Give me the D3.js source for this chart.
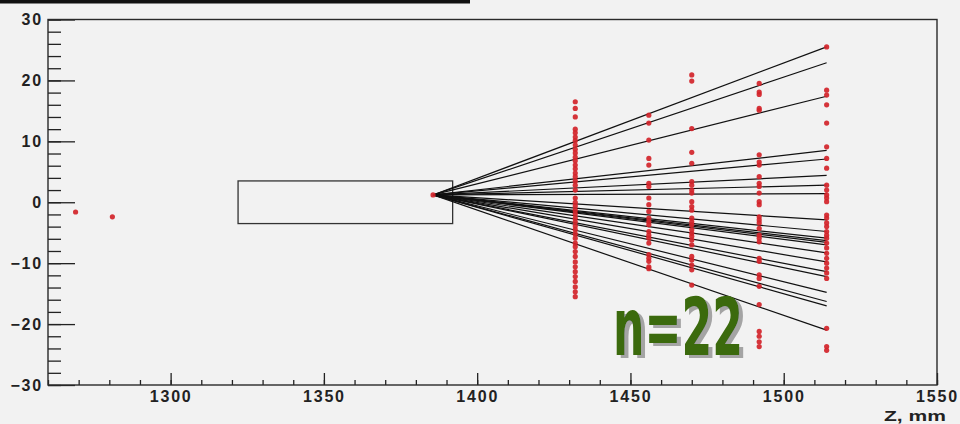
<!DOCTYPE html>
<html>
<head>
<meta charset="utf-8">
<script src="https://cdn.jsdelivr.net/npm/d3@7"></script>
<style>
  body { margin: 0; background: #f2f2f2; }
  svg { display: block; }
  .tick text { font-family: "Liberation Sans", Arial, sans-serif; font-weight: bold; font-size: 16px; letter-spacing: 1.8px; fill: #222; }
</style>
</head>
<body>
<div id="container"></div>
<script>
var width = 960;
var height = 424;

// station planes (Z, mm) and the hits recorded on each
var stationZ = [1432, 1456, 1470, 1492, 1514];
var hitsY = [
  [16.5, 15.4, 14.0, 12.0, 11.4, 10.7, 10.1, 9.4, 8.7, 8.1, 7.4, 6.8, 6.1, 5.5, 4.8, 4.2, 3.5, 2.8, 2.0,
   0.7, 0.0, -0.6, -1.3, -1.9, -2.6, -3.2, -3.9, -4.5, -5.2, -5.9, -6.7, -7.3, -8.1, -8.9, -9.8,
   -10.6, -11.4, -12.2, -13.0, -13.9, -14.7, -15.5],
  [14.3, 13.0, 10.2, 7.2, 6.1, 3.1, 2.6, 0.7, -0.4, -1.5, -2.6, -3.2, -3.7, -4.8, -5.4, -5.9, -6.7,
   -8.6, -9.2, -9.7, -10.6, -10.9],
  [20.9, 19.9, 12.1, 8.2, 6.4, 3.4, 2.8, 2.0, 1.5, 0.1, -0.7, -1.3, -2.6, -3.2, -3.7, -4.5, -5.1,
   -5.6, -6.2, -7.0, -8.9, -9.5, -10.3, -11.1, -13.6],
  [19.5, 18.1, 17.7, 15.4, 15.1, 7.8, 6.6, 6.1, 4.2, 3.1, 2.6, 1.5, 0.1, -0.4, -2.4, -2.9, -3.4,
   -4.3, -5.4, -5.9, -6.5, -9.2, -9.7, -11.9, -12.5, -13.8, -16.8, -21.2, -22.0, -22.9, -23.7],
  [25.5, 18.4, 17.6, 16.0, 13.0, 9.1, 7.2, 5.6, 2.8, 2.0, 1.2, 0.7, 0.1, -2.1, -2.6, -3.4, -4.0,
   -4.8, -5.4, -5.9, -6.7, -7.5, -8.4, -9.2, -10.0, -10.8, -11.6, -12.5, -20.7, -23.7, -24.3]
];

// beam points upstream of the target
var beamZ = [1269, 1281];
var beamY = [-1.6, -2.4];

// reconstructed vertex and fitted tracks (Y at the last plane)
var vertexZ = 1385.6;
var vertexY = 1.2;
var trackEndZ = 1514;
var trackEndY = [25.5, 22.9, 17.4, 8.5, 7.1, 4.4, 2.8, 1.4, -2.9, -4.8, -5.9, -6.3, -6.6, -7.0,
                 -8.3, -9.8, -11.4, -12.2, -14.8, -16.3, -17.0, -21.0];

// target box
var boxZ = [1322, 1392];
var boxY = [-3.5, 3.5];

var xMajor = [1300, 1350, 1400, 1450, 1500, 1550];
var xMinor = d3.range(1260, 1551, 10);
var yMajor = [-30, -20, -10, 0, 10, 20, 30];
var yMinor = d3.range(-30, 31, 2);
var label = "n=22";

var svg = d3.select("div#container")
  .append("svg")
  .attr("width", width)
  .attr("height", height)
  .style("background-color", "#f2f2f2");

var defs = svg.append("defs");
defs.append("filter").attr("id", "shadow")
  .attr("x", "-10%").attr("y", "-10%").attr("width", "130%").attr("height", "130%")
  .append("feDropShadow")
  .attr("dx", 4).attr("dy", 3).attr("stdDeviation", 0.6)
  .attr("flood-color", "#a4a4a4").attr("flood-opacity", 1);

// black strip on top
svg.append("rect").attr("x", 0).attr("y", 0).attr("width", 470).attr("height", 3.5).attr("fill", "#111");

var x = d3.scaleLinear().domain([1260, 1550]).range([48, 937]);
var y = d3.scaleLinear().domain([-30, 30]).range([385, 19.5]);

// axes
var gx = svg.append("g").attr("transform", "translate(0," + y(-30) + ")");
gx.call(d3.axisBottom(x).tickValues(xMinor).tickSize(-5).tickFormat(""));
gx.append("g").call(d3.axisBottom(x).tickValues(xMajor).tickSize(-12).tickPadding(6).tickFormat(d3.format("d")));

var gy = svg.append("g").attr("transform", "translate(" + x(1260) + ",0)");
gy.call(d3.axisLeft(y).tickValues(yMinor).tickSize(-13).tickFormat(""));
gy.append("g").call(d3.axisLeft(y).tickValues(yMajor).tickSize(-27).tickPadding(5));

svg.selectAll(".domain").remove();
svg.selectAll(".tick line").attr("stroke", "#222").attr("stroke-width", 1.3);

// frame
svg.append("rect")
  .attr("x", x(1260)).attr("y", y(30))
  .attr("width", x(1550) - x(1260)).attr("height", y(-30) - y(30))
  .attr("fill", "none").attr("stroke", "#2a2a2a").attr("stroke-width", 1.4);

svg.append("text")
  .attr("x", 946).attr("y", 421)
  .attr("text-anchor", "end")
  .attr("font-family", "Liberation Sans, Arial, sans-serif")
  .attr("font-weight", "bold").attr("font-size", 15)
  .attr("textLength", 62).attr("lengthAdjust", "spacingAndGlyphs")
  .attr("fill", "#222")
  .text("Z, mm");

// target box
svg.append("rect")
  .attr("x", x(boxZ[0])).attr("y", y(boxY[1]))
  .attr("width", x(boxZ[1]) - x(boxZ[0])).attr("height", y(boxY[0]) - y(boxY[1]))
  .attr("fill", "none").attr("stroke", "#333").attr("stroke-width", 1.3);

// tracks
svg.append("g")
  .selectAll("line")
  .data(trackEndY)
  .enter()
  .append("line")
  .attr("x1", x(vertexZ)).attr("y1", y(vertexY))
  .attr("x2", x(trackEndZ)).attr("y2", (d) => y(d))
  .attr("stroke", "#111").attr("stroke-width", 1.2);

// hits
var hits = [];
stationZ.forEach((z, i) => hitsY[i].forEach((v) => hits.push([z, v])));
beamZ.forEach((z, i) => hits.push([z, beamY[i]]));
hits.push([vertexZ, vertexY]);

svg.append("g")
  .selectAll("circle")
  .data(hits)
  .enter()
  .append("circle")
  .attr("cx", (d) => x(d[0]))
  .attr("cy", (d) => y(d[1]))
  .attr("r", 2.6)
  .attr("fill", "#d3242a")
  .attr("opacity", 0.92);

// multiplicity label with shadow
svg.append("text")
  .attr("x", 613).attr("y", 355)
  .attr("font-family", "DejaVu Sans Condensed, DejaVu Sans, sans-serif")
  .attr("font-weight", "bold").attr("font-size", 80)
  .attr("textLength", 130).attr("lengthAdjust", "spacingAndGlyphs")
  .attr("fill", "#3b6a0c")
  .attr("filter", "url(#shadow)")
  .text(label);
</script>
</body>
</html>
